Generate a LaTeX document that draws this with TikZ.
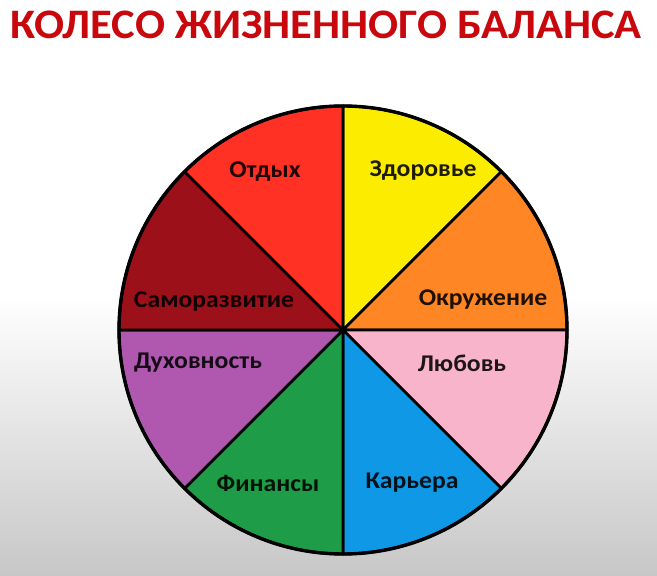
\documentclass[tikz,border=0pt]{standalone}
\usepackage{fontspec}
\setmainfont{Carlito}
\usetikzlibrary{positioning}
\definecolor{wbtitle}{RGB}{200,8,12}
\definecolor{wbred}{RGB}{255,48,36}
\definecolor{wbyellow}{RGB}{252,236,0}
\definecolor{wborange}{RGB}{255,134,36}
\definecolor{wbpink}{RGB}{248,180,202}
\definecolor{wbblue}{RGB}{14,152,230}
\definecolor{wbgreen}{RGB}{30,156,72}
\definecolor{wbpurple}{RGB}{176,88,176}
\definecolor{wbdarkred}{RGB}{156,16,26}

\begin{document}
\begin{tikzpicture}[x=1pt,y=1pt,
      sector/.style={draw=black,line width=2.8pt,line join=round},
      rim/.style={draw=black,line width=3.4pt},
      areatext/.style={font=\bfseries\fontsize{24}{24}\selectfont,text=black,text opacity=.88,
        inner sep=0pt,xscale=1.07,transform shape},
      headline/.style={font=\bfseries\fontsize{42}{42}\selectfont,text=wbtitle,
        inner sep=0pt,xscale=1.06,transform shape}]
  % background
  \fill[white] (0,0) rectangle (657,576);
  \shade[top color=white,bottom color=black!22] (0,0) rectangle (657,280);
  \useasboundingbox (0,0) rectangle (657,576);
  \node[headline] (title) at (326,551) {КОЛЕСО ЖИЗНЕННОГО БАЛАНСА};
  % wheel
  \coordinate (c) at (343,246);
  \foreach \ang/\col in {90/wbyellow,45/wborange,0/wbpink,-45/wbblue,
                         -90/wbgreen,-135/wbpurple,180/wbdarkred,135/wbred}
    \filldraw[sector,fill=\col] (c) -- +(\ang:224)
      arc[start angle=\ang,end angle=\ang-45,radius=224] -- cycle;
  \draw[rim] (c) circle[radius=224];
  % sector names
  \node[areatext] (otdyh) at (265,404) {Отдых};
  \node[areatext] (zdorovie) at (423,405) {Здоровье};
  \node[areatext] (okruzhenie) at (483,276) {Окружение};
  \node[areatext] (samorazv) at (214,274) {Саморазвитие};
  \node[areatext] (duhovn) at (198,213) {Духовность};
  \node[areatext] (lyubov) at (462,213) {Любовь};
  \node[areatext] (finansy) at (268,93) {Финансы};
  \node[areatext] (kariera) at (412,93) {Карьера};
\end{tikzpicture}
\end{document}
